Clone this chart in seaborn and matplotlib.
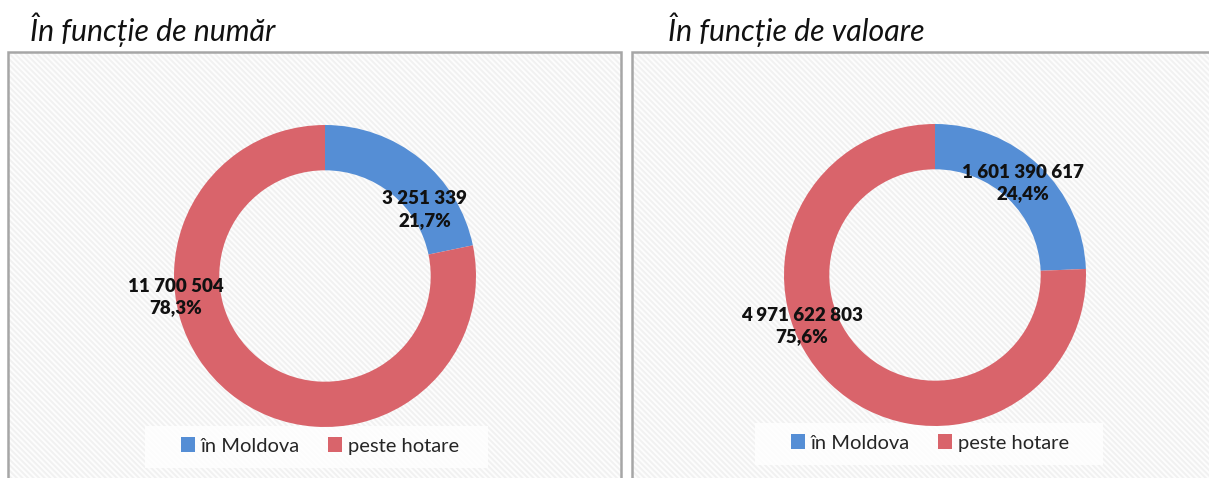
import matplotlib.pyplot as plt
import matplotlib.patches as mpatches
import seaborn as sns

# data
categories = ['în Moldova', 'peste hotare']
count_values = [3251339, 11700504]
value_values = [1601390617, 4971622803]
titles = ['În funcție de număr', 'În funcție de valoare']
colors = ['#558ED5', '#D9646B']

sns.set_theme(style="white")
plt.rcParams['font.family'] = ['Lato', 'DejaVu Sans']
plt.rcParams['hatch.linewidth'] = 1.4

W, H = 1209, 478
fig = plt.figure(figsize=(W / 100, H / 100), dpi=100)


def fmt_num(v):
    return f'{v:,}'.replace(',', ' ')


def fmt_pct(v, total):
    return f'{v / total * 100:.1f}%'.replace('.', ',')


# panel boxes (pixels: left, right, top)
panels = [(8, 621, 52), (632, 1215, 52)]
centers = [(325, 276), (935, 275)]
radius = 151
label_pos = [[(0.66, 0.44), (-0.99, -0.14)], [(0.58, 0.61), (-0.88, -0.34)]]
legend_box = [(145, 488, 426, 468), (755, 1103, 423, 465)]
legend_pos = [(320, 446), (930, 443)]
title_x = [30, 668]

for i, vals in enumerate([count_values, value_values]):
    x0, x1, top = panels[i]
    bg = mpatches.Rectangle((x0 / W, 0), (x1 - x0) / W, (H - top) / H,
                            transform=fig.transFigure, facecolor='#fdfdfd',
                            hatch='\\\\\\\\\\\\', edgecolor='#f1f1f1', lw=0, zorder=-3)
    fig.patches.append(bg)
    border = mpatches.Rectangle((x0 / W, -0.01), (x1 - x0) / W, (H - top) / H + 0.01,
                                transform=fig.transFigure, fill=False,
                                edgecolor='#a6a6a6', lw=1.8, zorder=-2)
    fig.patches.append(border)

    bx0, bx1, by0, by1 = legend_box[i]
    lbox = mpatches.Rectangle((bx0 / W, (H - by1) / H), (bx1 - bx0) / W, (by1 - by0) / H,
                              transform=fig.transFigure, facecolor='white', alpha=0.8,
                              lw=0, zorder=-1)
    fig.patches.append(lbox)

    fig.text(title_x[i] / W, (H - 30) / H, titles[i], fontsize=21.8, style='italic',
             ha='left', va='center', color='#111111')

    cx, cy = centers[i]
    ax = fig.add_axes([(cx - radius) / W, (H - cy - radius) / H, 2 * radius / W, 2 * radius / H])
    wedges, _ = ax.pie(vals, colors=colors, startangle=90, counterclock=False,
                       radius=1, wedgeprops=dict(width=0.30, linewidth=0))
    ax.set_xlim(-1, 1)
    ax.set_ylim(-1, 1)
    ax.set_axis_off()
    ax.patch.set_alpha(0)

    total = sum(vals)
    for j, v in enumerate(vals):
        lx, ly = label_pos[i][j]
        ax.text(lx, ly, f'{fmt_num(v)}\n{fmt_pct(v, total)}', ha='center', va='center',
                fontsize=13.5, fontweight='heavy', color='#111111', linespacing=1.3,
                clip_on=False)

    lx, ly = legend_pos[i]
    leg = ax.legend(wedges, categories, loc='center', ncol=2,
                    bbox_to_anchor=(lx / W, (H - ly) / H), bbox_transform=fig.transFigure,
                    fontsize=14.5, frameon=False, handlelength=0.7,
                    handleheight=0.7, handletextpad=0.3, columnspacing=1.4,
                    borderpad=0.3, borderaxespad=0)

fig.savefig('out.png', dpi=100)
